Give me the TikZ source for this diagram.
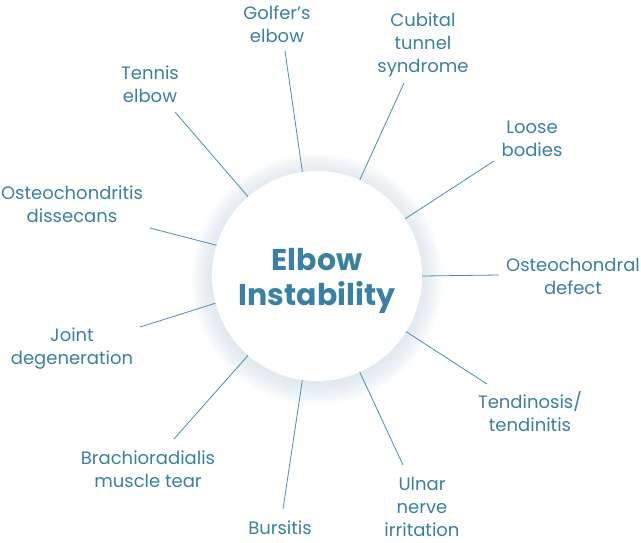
\documentclass[tikz,border=0pt]{standalone}
\usepackage{fontspec}
\setmainfont{Poppins}
\definecolor{elbowteal}{RGB}{58,128,160}
\definecolor{spoke}{RGB}{72,142,176}
\definecolor{glow}{RGB}{200,214,226}
\tikzset{
  hub/.style={circle,fill=white,minimum size=210pt,inner sep=0pt},
  title/.style={text=elbowteal,align=center,font=\fontsize{30}{35}\selectfont\bfseries},
  cause/.style={text=elbowteal,align=center,inner sep=0pt,font=\fontsize{18}{23}\selectfont},
  spokeline/.style={draw=spoke,line width=0.8pt},
  halo/.style={fill=glow,opacity=0.035}
}

\begin{document}
\begin{tikzpicture}[x=1pt,y=-1pt]
\useasboundingbox (0,0) rectangle (641,542);
% soft shadow round the hub
\foreach \r in {105,106,...,126}
  \fill[halo] (317,279) circle (\r);
\node[hub] (c) at (317,276) {};
\node[title] (ttl) at ([yshift=-5pt]c.center) {Elbow\\Instability};
% causes
\node[cause] (golf) at (277,24) {Golfer’s\\elbow};
\node[cause] (tennis) at (150,84) {Tennis\\elbow};
\node[cause] (ochd) at (72,204) {Osteochondritis\\dissecans};
\node[cause] (joint) at (72,349) {Joint\\degeneration};
\node[cause] (brach) at (148,469) {Brachioradialis\\muscle tear};
\node[cause] (burs) at (280,528) {Bursitis};
\node[cause] (ulnar) at (422,507) {Ulnar\\nerve\\irritation};
\node[cause] (tend) at (530,412) {Tendinosis/\\tendinitis};
\node[cause] (ocdef) at (573,276) {Osteochondral\\defect};
\node[cause] (loose) at (532,139) {Loose\\bodies};
\node[cause] (cubit) at (423,45) {Cubital\\tunnel\\syndrome};
% free ends of the spokes
\coordinate (golf-end) at (285,51);
\coordinate (tennis-end) at (175,112);
\coordinate (ochd-end) at (150,228);
\coordinate (joint-end) at (140,327);
\coordinate (brach-end) at (174,439);
\coordinate (burs-end) at (283,509);
\coordinate (ulnar-end) at (403,465);
\coordinate (tend-end) at (487,384);
\coordinate (ocdef-end) at (499,275);
\coordinate (loose-end) at (494,161);
\coordinate (cubit-end) at (404,83);
\draw[spokeline] (c.98)--(golf-end) (c.131)--(tennis-end) (c.163)--(ochd-end) (c.195.5)--(joint-end)
(c.229)--(brach-end) (c.262)--(burs-end) (c.294.6)--(ulnar-end) (c.328)--(tend-end)
(c.0.5)--(ocdef-end) (c.33)--(loose-end) (c.66)--(cubit-end);
\end{tikzpicture}
\end{document}
